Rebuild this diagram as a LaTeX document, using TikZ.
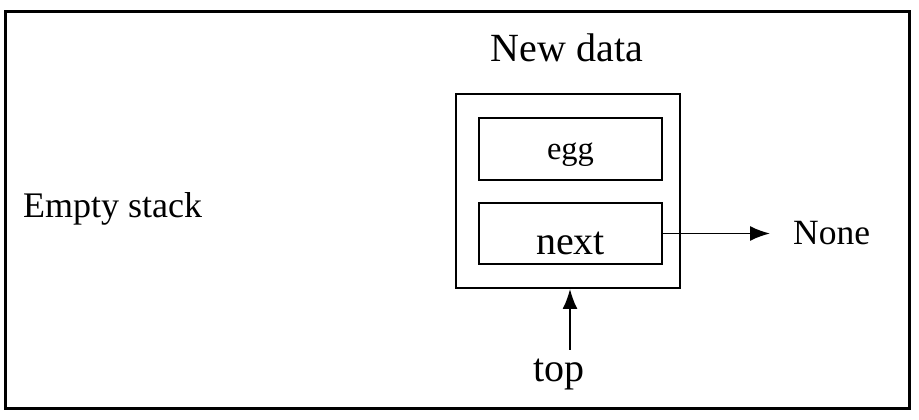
\documentclass[tikz,border=0pt]{standalone}
\usepackage{fontspec}
\setmainfont{Liberation Serif}
\usetikzlibrary{arrows.meta}
\tikzset{
  box/.style={draw=black, line width=2pt, inner sep=0pt, anchor=center},
  lbl/.style={inner sep=0pt, text=black},
  arr/.style={line width=1.8pt, -{Latex[length=20pt,width=15pt]}},
}
\newcommand{\fs}[1]{\fontsize{#1}{#1}\selectfont}
\begin{document}
\begin{tikzpicture}[x=1pt,y=1pt]
\useasboundingbox (0,0) rectangle (919,420);
\fill[white] (0,0) rectangle (919,420);
\node[draw=black, line width=3pt, inner sep=0pt, minimum width=903.5pt, minimum height=397.5pt] (frame) at (457.25,209.75) {};
\node[box, minimum width=224pt, minimum height=194pt] (node) at (568,229) {};
\node[box, minimum width=183pt, minimum height=62pt] (egg) at (570.5,271) {};
\node[box, minimum width=183pt, minimum height=61pt] (next) at (570.5,186.5) {};
\node[lbl, anchor=base] (eggtxt) at (570.5,260) {\fs{32.5}egg};
\node[lbl, anchor=base] (nexttxt) at (570.5,165) {\fs{40}next};
\node[lbl, anchor=base] (newdata) at (567,358) {\fs{40}New data};
\node[lbl, anchor=base west] (empty) at (23,202) {\fs{36}Empty stack};
\node[lbl, anchor=base west] (none) at (793,175) {\fs{35.5}None};
\node[lbl, anchor=base] (top) at (559,38) {\fs{40}top};
\coordinate (nonetip) at (770,187);
\coordinate (topstart) at (570,70);
\draw[arr] (next.east) -- (next.east -| nonetip);
\draw[arr] (topstart) -- (topstart |- node.south);
\end{tikzpicture}
\end{document}
